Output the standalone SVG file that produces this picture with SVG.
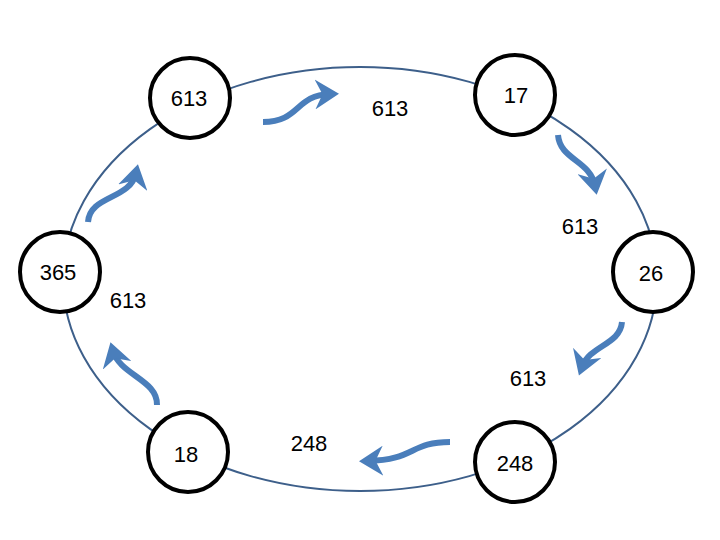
<svg xmlns="http://www.w3.org/2000/svg" width="720" height="540" viewBox="0 0 720 540">
<style>
.n{fill:#fff;stroke:#000;stroke-width:4}
.t{font-family:"Liberation Sans",Arial,sans-serif;font-size:22px;fill:#000;text-anchor:middle}
.a{fill:none;stroke:#4a7ebb;stroke-width:6;marker-end:url(#h)}
</style>
<defs>
<marker id="h" markerUnits="userSpaceOnUse" markerWidth="30" markerHeight="30" refX="10" refY="10" orient="auto" viewBox="0 0 20 20">
<path d="M0,0 L16,10 L0,20 L5,10 Z" fill="#4a7ebb"/>
</marker>
</defs>
<rect width="720" height="540" fill="#fff"/>
<g id="connectors">
<ellipse cx="360" cy="279" rx="297" ry="212" fill="none" stroke="#3d5f8a" stroke-width="2"/>
<path class="a" d="M263,122 C300,122 295,95 330,94"/>
<path class="a" d="M558,135 C560,160 590,160 595,186"/>
<path class="a" d="M622,322 C620,345 590,345 582,367"/>
<path class="a" d="M450,442 C410,442 415,460 368,461"/>
<path class="a" d="M157,405 C158,380 120,375 113,351"/>
<path class="a" d="M88,222 C90,195 130,200 136,173"/>
</g>
<g id="n1"><circle class="n" cx="190" cy="98" r="40"/><text class="t" x="189" y="106">613</text></g>
<g id="n2"><circle class="n" cx="515" cy="95" r="40"/><text class="t" x="516" y="103">17</text></g>
<g id="n3"><circle class="n" cx="653" cy="272" r="40"/><text class="t" x="651" y="281">26</text></g>
<g id="n4"><circle class="n" cx="515" cy="462" r="40"/><text class="t" x="515" y="471">248</text></g>
<g id="n5"><circle class="n" cx="188" cy="452" r="40"/><text class="t" x="186" y="462">18</text></g>
<g id="n6"><circle class="n" cx="60" cy="272" r="40"/><text class="t" x="58" y="280">365</text></g>
<g id="labels">
<text class="t" x="390" y="116">613</text>
<text class="t" x="580" y="234">613</text>
<text class="t" x="128" y="308">613</text>
<text class="t" x="528" y="386">613</text>
<text class="t" x="309" y="451">248</text>
</g>
</svg>
